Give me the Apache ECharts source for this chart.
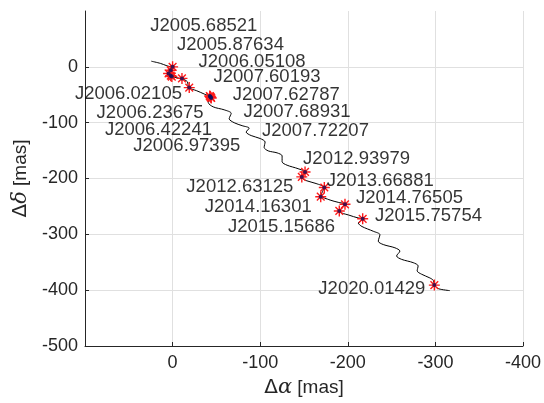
<!DOCTYPE html>
<html>
<head>
<meta charset="utf-8">
<script src="https://cdn.jsdelivr.net/npm/echarts@6/dist/echarts.min.js"></script>
<style>html,body{margin:0;padding:0;background:#fff;}#c{width:544px;height:403px;}</style>
</head>
<body>
<div id="c"></div>
<script>
// ---- data ----
const epochs = ['J2005.68521','J2005.87634','J2006.02105','J2006.05108','J2006.23675','J2006.42241','J2006.97395',
  'J2007.60193','J2007.62787','J2007.68931','J2007.72207','J2012.63125','J2012.93979','J2013.66881',
  'J2014.16301','J2014.76505','J2015.15686','J2015.75754','J2020.01429'];
const starRA  = [0, 2.1, 4.6, 2.1, 0.9, -10.7, -19.0, -42.4, -43.0, -43.5, -44.1, -151.2, -147.5, -173.2, -169.1, -196.8, -190.3, -217.0, -298.8];
const starDec = [0, -6.2, -11.9, -15.9, -17.4, -20.7, -37.2, -52.2, -53.1, -54.6, -55.8, -188.3, -197.1, -216.1, -232.6, -246.2, -258.1, -272.2, -390.9];

const trackRA = [24.3, 14.0, 6.4, 0.3, 3.8, -1.9, -10.7, -16.8, -18.5, -27.0, -36.1, -43.0, -40.7, -46.4, -58.9, -66.9,
  -64.6, -70.3, -79.4, -87.4, -84.0, -89.7, -100.0, -105.6, -104.5, -109.1, -119.3, -125.0, -125.0, -130.7, -143.2, -151.2,
  -147.8, -152.4, -163.8, -172.9, -169.5, -179.8, -188.9, -196.2, -190.5, -202.5, -210.5, -217.0, -212.0, -216.2, -229.1,
  -236.7, -234.8, -240.5, -253.8, -259.5, -255.7, -261.4, -274.6, -280.3, -279.2, -284.2, -293.7, -297.7, -299.4, -303.9, -316.4];
const trackDec = [10.1, 6.2, 1.8, -1.8, -12.4, -18.6, -21.3, -26.6, -37.2, -42.5, -48.7, -54.9, -63.8, -71.7, -77.0, -83.2,
  -93.0, -100.1, -105.4, -109.8, -116.9, -123.1, -128.4, -134.6, -144.3, -150.5, -154.1, -159.4, -170.0, -176.2, -182.4, -188.6,
  -198.4, -203.7, -209.0, -216.1, -230.3, -238.6, -242.6, -246.2, -258.6, -266.2, -270.1, -272.8, -279.8, -286.0, -294.5,
  -300.6, -312.3, -318.3, -324.1, -330.0, -338.8, -344.8, -350.7, -356.5, -365.4, -371.4, -378.1, -382.6, -392.3, -397.6, -400.8];

// ---- label layout (pixel offsets from each star) ----
const labelAlign = ['left','left','right','left','right','right','right','left','left','left','left',
  'right','left','left','right','left','right','left','right'];
const labelDx = [-22.3, 6.2, 13.4, 27.8, 31.8, 30, 51, 3.8, 22.5, 32.8, 50.7, -11.7, 1.3, 2.4, -9, 11, -4.3, 12.3, -9];
const labelDy = [-41, -25.5, 20, -14.3, 36.2, 51.6, 58.7, -18.8, -1.5, 14.2, 32.5, 15, -17.8, -6.5, 10, -6, 15.6, -3.4, 3.8];

const FONT = 'Liberation Sans, Arial, Helvetica, sans-serif';
const track = trackRA.map((a, i) => [a, trackDec[i]]);
const stars = starRA.map((a, i) => [a, starDec[i]]);
const dots = starRA.map((a, i) => ({
  name: epochs[i],
  value: [a, starDec[i]],
  label: { align: labelAlign[i], offset: [labelDx[i], labelDy[i]] }
}));

const chart = echarts.init(document.getElementById('c'), null, { renderer: 'canvas' });
const nameRich = {
  d: { fontFamily: 'DejaVu Sans', fontSize: 20, color: '#262626' },
  g: { fontFamily: 'DejaVu Serif', fontStyle: 'italic', fontSize: 21, color: '#262626' },
  t: { fontFamily: FONT, fontSize: 19, color: '#262626' }
};
const axisCommon = {
  type: 'value',
  interval: 100,
  axisLine: { show: true, onZero: false, lineStyle: { color: '#262626', width: 1 } },
  axisTick: { show: true, inside: true, length: 4, lineStyle: { color: '#262626' } },
  axisLabel: { color: '#262626', fontFamily: FONT, fontSize: 18, showMaxLabel: false },
  splitLine: { show: true, lineStyle: { color: '#e0e0e0', width: 1 } },
  nameLocation: 'middle',
  nameTextStyle: { color: '#262626', fontFamily: FONT, fontSize: 19, rich: nameRich }
};
chart.setOption({
  animation: false,
  backgroundColor: '#ffffff',
  grid: { left: 85, right: 21, top: 11, bottom: 53, containLabel: false },
  xAxis: Object.assign({}, axisCommon, {
    min: -400, max: 100, inverse: true,
    name: '{d|Δ}{g|α}{t| [mas]}', nameGap: 31,
    axisLabel: Object.assign({}, axisCommon.axisLabel, { margin: 8 })
  }),
  yAxis: Object.assign({}, axisCommon, {
    min: -500, max: 100,
    name: '{d|Δ}{g|δ}{t| [mas]}', nameGap: 47,
    axisLabel: Object.assign({}, axisCommon.axisLabel, { margin: 7 }),
    splitLine: Object.assign({}, axisCommon.splitLine, { showMaxLine: false })
  }),
  series: [
    {
      type: 'line', data: track, smooth: 0.3, symbol: 'none', z: 2,
      lineStyle: { color: '#000000', width: 1 }
    },
    {
      type: 'scatter', data: stars, z: 3,
      symbol: 'path://M5,0L5,10M0,5L10,5M1.5,1.5L8.5,8.5M1.5,8.5L8.5,1.5',
      symbolSize: 11,
      itemStyle: { color: 'none', borderColor: '#ff1a1a', borderWidth: 1.4, opacity: 1 }
    },
    {
      type: 'scatter', data: dots, z: 4,
      symbol: 'circle', symbolSize: 4,
      itemStyle: { color: '#10105a' },
      label: {
        show: true, position: 'inside', formatter: '{b}',
        color: '#000000', fontFamily: FONT, fontSize: 18.5, verticalAlign: 'middle'
      }
    }
  ]
});
</script>
</body>
</html>
